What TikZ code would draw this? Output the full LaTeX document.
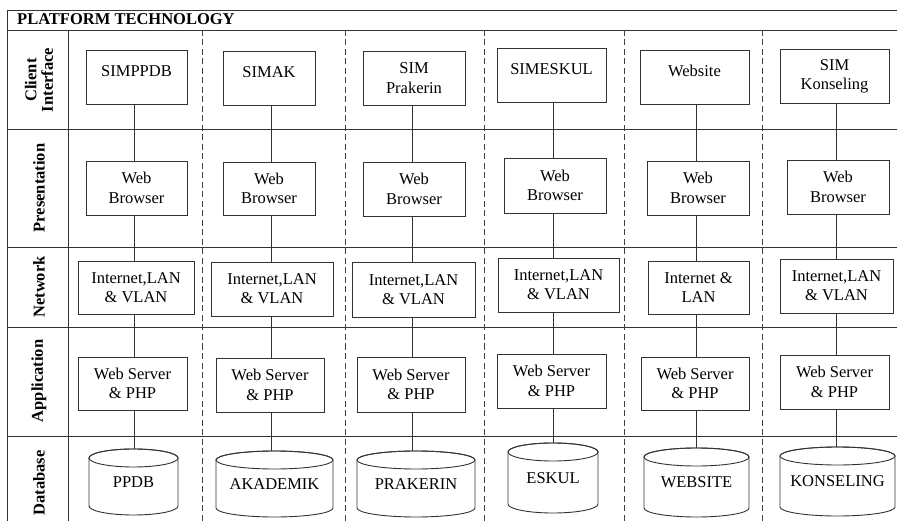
\documentclass[tikz,border=0pt]{standalone}
\usepackage{fontspec}
\setmainfont{Liberation Serif}
\newcommand\dbcyl[6]{%
  \draw[line, fill=white] (#2-#5,#3+9) -- (#2-#5,#4-9)
    arc[start angle=180,end angle=360,x radius=#5pt,y radius=9pt]
    -- (#2+#5,#3+9)
    arc[start angle=0,end angle=180,x radius=#5pt,y radius=9pt] -- cycle;
  \draw[line] (#2,#3+9) ellipse[x radius=#5pt,y radius=9pt];
  \node[dbtext, minimum width={2*#5pt}, minimum height={(#4-#3)*1pt}] (#1) at (#2,{(#3+#4)/2}) {#6};
}
\begin{document}
\begin{tikzpicture}[x=1pt,y=-1pt,
  line/.style={draw=black!80, line width=0.9pt},
  grid/.style={draw=black!80, line width=0.9pt},
  sep/.style={draw=black!75, line width=0.9pt, dash pattern=on 6pt off 3.5pt},
  box/.style={line, fill=white, inner sep=0pt, align=center,
    font=\fontsize{16.5}{19.3}\selectfont},
  one/.style={text depth=12pt},
  dbtext/.style={inner sep=0pt, font=\fontsize{16.5}{19.3}\selectfont},
  rowlabel/.style={rotate=90, align=center, inner sep=0pt,
    font=\fontsize{16.5}{16.5}\selectfont\bfseries},
  titletext/.style={inner sep=0pt, font=\fontsize{16.5}{19}\selectfont\bfseries}]
\fill[white] (0,0) rectangle (897,521);
\useasboundingbox (0,0) rectangle (897,521);
% table grid
\foreach \yy in {10,30,129,247,327,436} \draw[grid] (7,\yy) -- (897,\yy);
\draw[grid] (7,10) -- (7,521);
\draw[grid] (68,30) -- (68,521);
\foreach \xx in {202,345,484,624,762} \draw[sep] (\xx,30) -- (\xx,521);
% title and row labels
\node[titletext, anchor=base west] (title) at (17,25) {PLATFORM TECHNOLOGY};
\node[rowlabel] (lab1) at (39,80) {Client\\Interface};
\node[rowlabel] (lab2) at (39,188) {Presentation};
\node[rowlabel] (lab3) at (39,287) {Network};
\node[rowlabel] (lab4) at (39,381) {Application};
\node[rowlabel] (lab5) at (39,483) {Database};
% connector columns
\foreach \i/\xx in {1/134,2/271,3/412,4/553,5/696,6/836} \coordinate (l\i) at (\xx,0);
% client interface
\node[box, one, minimum width=101pt, minimum height=54pt] (c1) at (136.5,77) {SIMPPDB};
\node[box, one, minimum width=92pt, minimum height=54pt] (c2) at (269,78) {SIMAK};
\node[box, minimum width=102pt, minimum height=54pt] (c3) at (414,78) {SIM\\Prakerin};
\node[box, one, minimum width=109pt, minimum height=54pt] (c4) at (551.5,75) {SIMESKUL};
\node[box, one, minimum width=109pt, minimum height=54pt] (c5) at (694.5,77) {Website};
\node[box, minimum width=109pt, minimum height=54pt] (c6) at (834.5,76) {SIM\\Konseling};
% presentation
\node[box, minimum width=101pt, minimum height=54pt] (w1) at (136.5,188) {Web\\Browser};
\node[box, minimum width=92pt, minimum height=53pt] (w2) at (269,188.5) {Web\\Browser};
\node[box, minimum width=102pt, minimum height=54pt] (w3) at (414,189) {Web\\Browser};
\node[box, minimum width=102pt, minimum height=55pt] (w4) at (555,185.5) {Web\\Browser};
\node[box, minimum width=102pt, minimum height=54pt] (w5) at (698,188) {Web\\Browser};
\node[box, minimum width=102pt, minimum height=54pt] (w6) at (838,187) {Web\\Browser};
% network
\node[box, minimum width=116pt, minimum height=53pt] (n1) at (136,287.5) {Internet,LAN\\\& VLAN};
\node[box, minimum width=122pt, minimum height=54pt] (n2) at (272,289) {Internet,LAN\\\& VLAN};
\node[box, minimum width=123pt, minimum height=55pt] (n3) at (413.5,289.5) {Internet,LAN\\\& VLAN};
\node[box, minimum width=121pt, minimum height=54pt] (n4) at (558.5,285) {Internet,LAN\\\& VLAN};
\node[box, minimum width=101pt, minimum height=53pt] (n5) at (698.5,287.5) {Internet \&\\LAN};
\node[box, minimum width=113pt, minimum height=54pt] (n6) at (836.5,286) {Internet,LAN\\\& VLAN};
% application
\node[box, minimum width=109pt, minimum height=53pt] (a1) at (132.5,383.5) {Web Server\\\& PHP};
\node[box, minimum width=108pt, minimum height=54pt] (a2) at (270,385) {Web Server\\\& PHP};
\node[box, minimum width=108pt, minimum height=55pt] (a3) at (411,384.5) {Web Server\\\& PHP};
\node[box, minimum width=109pt, minimum height=54pt] (a4) at (551.5,381) {Web Server\\\& PHP};
\node[box, minimum width=108pt, minimum height=53pt] (a5) at (695,383.5) {Web Server\\\& PHP};
\node[box, minimum width=109pt, minimum height=54pt] (a6) at (834.5,382) {Web Server\\\& PHP};
% database
\dbcyl{d1}{133.5}{449}{515}{44.5}{PPDB}
\dbcyl{d2}{274.5}{451}{517}{58.5}{AKADEMIK}
\dbcyl{d3}{416}{451}{517}{59}{PRAKERIN}
\dbcyl{d4}{553}{443}{513}{45}{ESKUL}
\dbcyl{d5}{696.5}{448}{517}{52.5}{WEBSITE}
\dbcyl{d6}{837.5}{447}{516}{57.5}{KONSELING}
% connectors
\foreach \i in {1,...,6} {
  \draw[line] (c\i.south -| l\i) -- (w\i.north -| l\i);
  \draw[line] (w\i.south -| l\i) -- (n\i.north -| l\i);
  \draw[line] (n\i.south -| l\i) -- (a\i.north -| l\i);
  \draw[line] (a\i.south -| l\i) -- (d\i.north -| l\i);
}
\end{tikzpicture}
\end{document}
